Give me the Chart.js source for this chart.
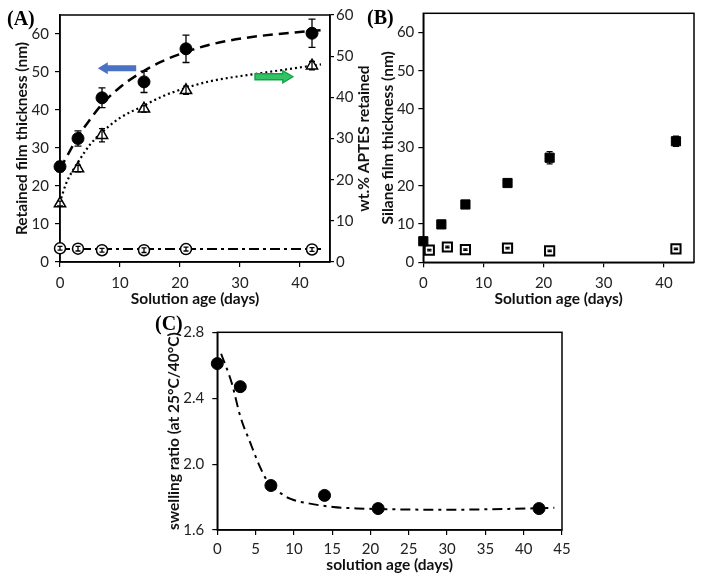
<!DOCTYPE html>
<html>
<head>
<meta charset="utf-8">
<script src="https://cdn.jsdelivr.net/npm/chart.js@4"></script>
<style>
  body { margin: 0; background: #fff; }
  #wrap { position: relative; width: 704px; height: 581px; overflow: hidden; background: #fff; }
  canvas { position: absolute; }
</style>
</head>
<body>
<div id="wrap">
  <canvas id="chartA" width="380" height="310" style="left:0;top:0"></canvas>
  <canvas id="chartB" width="344" height="310" style="left:360px;top:0"></canvas>
  <canvas id="chartC" width="440" height="281" style="left:140px;top:300px"></canvas>
</div>
<script>
// (A) retained film thickness / wt.% APTES retained
const daysA = [0, 3, 7, 14, 21, 42];
const filmThickness = [25.1, 32.5, 43.2, 47.4, 56.1, 60.2];
const filmThicknessErr = [1.3, 2.0, 2.6, 2.8, 3.6, 3.7];
const aptesRetained = [14.2, 22.7, 30.8, 37.2, 41.7, 47.7];
const aptesRetainedErr = [0.6, 0.8, 1.6, 0.8, 1.0, 1.0];
const refThickness = [3.6, 3.5, 3.1, 3.1, 3.4, 3.3];
const refThicknessErr = [0.5, 0.6, 0.5, 0.6, 0.5, 0.5];
// trend lines
const filmFitDays = [0, 1.5, 3, 5, 7, 10, 14, 17, 21, 25, 31, 36.4, 43.5];
const filmFit = [24.5, 28.8, 33, 37.5, 41.5, 46, 50.3, 52.8, 55.3, 57.2, 59.0, 60.0, 61.0];
const aptesFitDays = [0.2, 1, 3, 5, 7, 10, 14, 17, 21, 25, 33.6, 43.5];
const aptesFit = [15.5, 19, 24.2, 28.5, 31.5, 35, 38, 40.2, 42.3, 43.9, 45.9, 48];
const refFitDays = [0, 43.5];
const refFit = [3.45, 3.45];

// (B) silane film thickness
const daysB = [0, 3, 7, 14, 21, 42];
const silaneThickness = [5.5, 9.9, 15.1, 20.7, 27.3, 31.6];
const silaneThicknessErr = [0.6, 0.5, 0.6, 0.5, 1.6, 1.3];
const daysBCtrl = [1, 4, 7, 14, 21, 42];
const silaneCtrl = [3.2, 4.0, 3.3, 3.7, 3.0, 3.5];
const silaneCtrlErr = [0.2, 0.2, 0.2, 0.2, 0.2, 0.2];

// (C) swelling ratio
const daysC = [0, 3, 7, 14, 21, 42];
const swellingRatio = [2.61, 2.47, 1.87, 1.81, 1.73, 1.73];
const swellFitDays = [0.5, 1.9, 3, 4.3, 5.6, 6.5, 7.8, 9.5, 12.1, 15.1, 18.2, 21, 30, 38, 44];
const swellFit = [2.67, 2.49, 2.29, 2.13, 1.98, 1.9, 1.84, 1.79, 1.76, 1.74, 1.731, 1.727, 1.723, 1.728, 1.735];

const tickFont = { family: 'Lato', size: 15 };
const titleFont = { family: 'Lato', size: 15.5, weight: 'bold' };

function pts(xs, ys) { return xs.map((x, i) => ({ x, y: ys[i] })); }

function axis(o) {
  const ticks = { stepSize: o.step, includeBounds: false, font: tickFont, color: '#222', padding: o.pad };
  if (o.fmt) ticks.callback = o.fmt;
  return {
    type: 'linear', position: o.position, min: o.min, max: o.max,
    ticks,
    grid: { drawOnChartArea: false, drawTicks: true, tickLength: o.tick || 5, color: '#000', lineWidth: 1.2 },
    border: { display: true, color: '#000', width: 1.5 },
    title: o.title ? { display: true, text: o.title, font: titleFont, color: '#111', padding: o.titlePad } : { display: false },
    afterFit(s) {
      if (o.width != null) s.width = o.width;
      if (o.height != null) s.height = o.height;
    }
  };
}

const errorBars = {
  id: 'errorBars',
  afterDatasetsDraw(chart) {
    const ctx = chart.ctx;
    chart.data.datasets.forEach((ds, i) => {
      if (!ds.errors) return;
      const meta = chart.getDatasetMeta(i);
      const ys = chart.scales[meta.yAxisID];
      const cap = ds.errorCap || 3.5;
      ctx.save();
      ctx.strokeStyle = '#000';
      ctx.lineWidth = 1.3;
      meta.data.forEach((p, j) => {
        const v = ds.data[j].y, e = ds.errors[j];
        const t = ys.getPixelForValue(v + e), b = ys.getPixelForValue(v - e);
        ctx.beginPath();
        ctx.moveTo(p.x, t); ctx.lineTo(p.x, b);
        ctx.moveTo(p.x - cap, t); ctx.lineTo(p.x + cap, t);
        ctx.moveTo(p.x - cap, b); ctx.lineTo(p.x + cap, b);
        ctx.stroke();
      });
      ctx.restore();
    });
  }
};

const frame = {
  id: 'frame',
  beforeDatasetsDraw(chart) {
    const { ctx, chartArea: a } = chart;
    ctx.save();
    ctx.strokeStyle = '#000';
    ctx.lineWidth = 1.5;
    ctx.strokeRect(a.left, a.top, a.right - a.left, a.bottom - a.top);
    ctx.restore();
  }
};

const panelLabel = {
  id: 'panelLabel',
  afterDraw(chart, args, o) {
    const ctx = chart.ctx;
    ctx.save();
    ctx.font = 'bold 20px "Liberation Serif", "Times New Roman", serif';
    ctx.fillStyle = '#000';
    ctx.textBaseline = 'alphabetic';
    ctx.fillText(o.text, o.x, o.y);
    if (o.rightTitle) {
      const a = chart.chartArea;
      ctx.translate(o.rightTitle.x, (a.top + a.bottom) / 2);
      ctx.rotate(-Math.PI / 2);
      ctx.font = 'bold 15.5px Lato';
      ctx.fillStyle = '#111';
      ctx.textAlign = 'center';
      ctx.textBaseline = 'middle';
      ctx.fillText(o.rightTitle.text, 0, 0);
    }
    ctx.restore();
  }
};

const arrows = {
  id: 'arrows',
  afterDatasetsDraw(chart, args, o) {
    if (!o.items) return;
    const ctx = chart.ctx;
    o.items.forEach(a => {
      const x0 = chart.scales.x.getPixelForValue(a.from);
      const x1 = chart.scales.x.getPixelForValue(a.to);
      const y = chart.scales[a.axis].getPixelForValue(a.y);
      const dir = Math.sign(x1 - x0);
      const head = 10, hh = 6, bh = 3;
      const xh = x1 - dir * head;
      ctx.save();
      ctx.beginPath();
      ctx.moveTo(x0, y - bh); ctx.lineTo(xh, y - bh); ctx.lineTo(xh, y - hh);
      ctx.lineTo(x1, y); ctx.lineTo(xh, y + hh); ctx.lineTo(xh, y + bh);
      ctx.lineTo(x0, y + bh); ctx.closePath();
      ctx.fillStyle = a.fill;
      ctx.fill();
      if (a.stroke) { ctx.strokeStyle = a.stroke; ctx.lineWidth = 1.4; ctx.stroke(); }
      ctx.restore();
    });
  }
};

const common = {
  responsive: false,
  animation: false,
  plugins: { legend: { display: false }, tooltip: { enabled: false } }
};

new Chart(document.getElementById('chartA'), {
  type: 'scatter',
  data: {
    datasets: [
      { data: pts(daysA, filmThickness), errors: filmThicknessErr, yAxisID: 'y', clip: false,
        pointStyle: 'circle', pointRadius: 6, pointBackgroundColor: '#000', pointBorderColor: '#000' },
      { data: pts(daysA, aptesRetained), errors: aptesRetainedErr, errorCap: 3, yAxisID: 'y1', clip: false,
        pointStyle: 'triangle', pointRadius: 6.5, pointBackgroundColor: '#fff', pointBorderColor: '#000', pointBorderWidth: 1.5 },
      { data: pts(daysA, refThickness), errors: refThicknessErr, errorCap: 2.5, yAxisID: 'y', clip: false,
        pointStyle: 'circle', pointRadius: 5.5, pointBackgroundColor: '#fff', pointBorderColor: '#000', pointBorderWidth: 1.5 },
      { data: pts(filmFitDays, filmFit), yAxisID: 'y', showLine: true, pointRadius: 0,
        borderColor: '#000', borderWidth: 2.5, borderDash: [10, 6], cubicInterpolationMode: 'monotone' },
      { data: pts(aptesFitDays, aptesFit), yAxisID: 'y1', showLine: true, pointRadius: 0,
        borderColor: '#000', borderWidth: 2.2, borderDash: [2, 3], cubicInterpolationMode: 'monotone' },
      { data: pts(refFitDays, refFit), yAxisID: 'y', showLine: true, pointRadius: 0,
        borderColor: '#000', borderWidth: 2, borderDash: [10, 4, 3, 4] }
    ]
  },
  options: {
    ...common,
    layout: { padding: { top: 14.3, right: 0, left: 0, bottom: 0 } },
    scales: {
      x: axis({ position: 'bottom', min: 0, max: 45, step: 10, pad: 7, height: 48,
                title: 'Solution age (days)', titlePad: { top: 0, bottom: 2 } }),
      y: axis({ position: 'left', min: 0, max: 65, step: 10, pad: 6, width: 60,
                title: 'Retained film thickness (nm)', titlePad: { top: 12.7, bottom: 0 } }),
      y1: axis({ position: 'right', min: 0, max: 60, step: 10, pad: 2, tick: 4, width: 50 })
    },
    plugins: {
      ...common.plugins,
      panelLabel: { text: '(A)', x: 7, y: 25, rightTitle: { text: 'wt.% APTES retained', x: 364 } },
      arrows: { items: [
        { from: 12.7, to: 6.3, y: 51, axis: 'y', fill: '#4a72c2' },
        { from: 32.5, to: 38.8, y: 45, axis: 'y1', fill: '#35c266', stroke: '#12a345' }
      ] }
    }
  },
  plugins: [frame, errorBars, panelLabel, arrows]
});

new Chart(document.getElementById('chartB'), {
  type: 'scatter',
  data: {
    datasets: [
      { data: pts(daysB, silaneThickness), errors: silaneThicknessErr, errorCap: 3, yAxisID: 'y', clip: false,
        pointStyle: 'rect', pointRadius: 6.5, pointBackgroundColor: '#000', pointBorderColor: '#000' },
      { data: pts(daysBCtrl, silaneCtrl), errors: silaneCtrlErr, errorCap: 2.2, yAxisID: 'y', clip: false,
        pointStyle: 'rect', pointRadius: 6.5, pointBackgroundColor: '#fff', pointBorderColor: '#000', pointBorderWidth: 2 }
    ]
  },
  options: {
    ...common,
    layout: { padding: { top: 13.3, right: 10, left: 0, bottom: 0 } },
    scales: {
      x: axis({ position: 'bottom', min: 0, max: 45, step: 10, pad: 7, height: 47.7,
                title: 'Solution age (days)', titlePad: { top: 0, bottom: 2 } }),
      y: axis({ position: 'left', min: 0, max: 65, step: 10, pad: 4, width: 63.3,
                title: 'Silane film thickness (nm)', titlePad: { top: 18.7, bottom: 0 } })
    },
    plugins: { ...common.plugins, panelLabel: { text: '(B)', x: 7, y: 24 } }
  },
  plugins: [frame, errorBars, panelLabel]
});

new Chart(document.getElementById('chartC'), {
  type: 'scatter',
  data: {
    datasets: [
      { data: pts(daysC, swellingRatio), yAxisID: 'y', clip: false,
        pointStyle: 'circle', pointRadius: 6, pointBackgroundColor: '#000', pointBorderColor: '#000' },
      { data: pts(swellFitDays, swellFit), yAxisID: 'y', showLine: true, pointRadius: 0,
        borderColor: '#000', borderWidth: 2, borderDash: [10, 5, 3, 5], cubicInterpolationMode: 'monotone' }
    ]
  },
  options: {
    ...common,
    layout: { padding: { top: 32.3, right: 18, left: 0, bottom: 0 } },
    scales: {
      x: axis({ position: 'bottom', min: 0, max: 45, step: 5, pad: 5, height: 51,
                title: 'solution age (days)', titlePad: { top: 0, bottom: 6.7 } }),
      y: axis({ position: 'left', min: 1.6, max: 2.8, step: 0.4, pad: 8, width: 77.3,
                fmt: v => v.toFixed(1),
                title: 'swelling ratio (at 25°C/40°C)', titlePad: { top: 24.7, bottom: 0 } })
    },
    plugins: { ...common.plugins, panelLabel: { text: '(C)', x: 15, y: 30 } }
  },
  plugins: [frame, errorBars, panelLabel]
});
</script>
</body>
</html>
